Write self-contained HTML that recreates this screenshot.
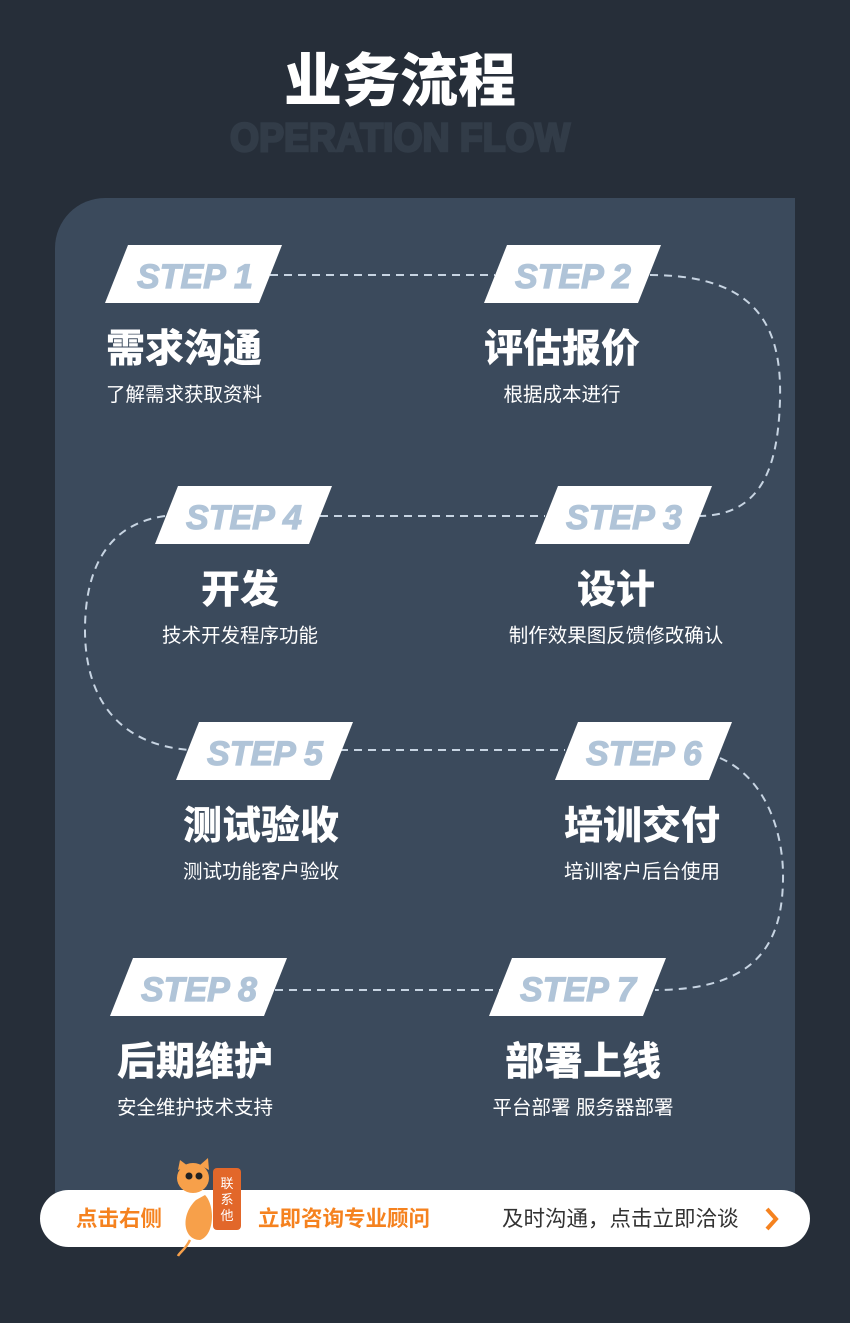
<!DOCTYPE html>
<html><head><meta charset="utf-8"><style>
html,body{margin:0;padding:0;background:#262e39;}
svg{display:block}
</style></head><body>
<svg width="850" height="1323" viewBox="0 0 850 1323" xmlns="http://www.w3.org/2000/svg">
<rect width="850" height="1323" fill="#262e39"/>
<text x="400" y="101" text-anchor="middle" font-size="58" font-weight="900" fill="#fff" font-family="Liberation Sans, Noto Sans CJK SC, sans-serif">业务流程</text>
<text x="400" y="151" text-anchor="middle" font-family="Liberation Sans, sans-serif" font-size="40" font-weight="900" fill="#323c48" stroke="#323c48" stroke-width="2.5" textLength="340" lengthAdjust="spacingAndGlyphs">OPERATION FLOW</text>
<path d="M105 198 H795 V1200 H55 V248 A50 50 0 0 1 105 198 Z" fill="#3b4a5c"/>
<g fill="none" stroke="#c7d4e2" stroke-width="2" stroke-dasharray="8 6">
<line x1="270" y1="275" x2="495" y2="275"/>
<path d="M650 275 C 760 275, 782 330, 780 400 C 778 470, 760 515, 700 516"/>
<line x1="320" y1="516" x2="545" y2="516"/>
<path d="M165 516 C 100 525, 85 580, 85 630 C 85 700, 120 745, 190 750"/>
<line x1="340" y1="750" x2="565" y2="750"/>
<path d="M720 758 C 770 780, 784 840, 783 880 C 782 940, 760 990, 655 990"/>
<line x1="275" y1="990" x2="500" y2="990"/>
</g>
<g fill="#fff">
<polygon points="128,245 282,245 259,303 105,303"/>
<polygon points="507,245 661,245 638,303 484,303"/>
<polygon points="178,486 332,486 309,544 155,544"/>
<polygon points="558,486 712,486 689,544 535,544"/>
<polygon points="199,722 353,722 330,780 176,780"/>
<polygon points="578,722 732,722 709,780 555,780"/>
<polygon points="133,958 287,958 264,1016 110,1016"/>
<polygon points="512,958 666,958 643,1016 489,1016"/>
</g>
<g font-family="Liberation Sans, sans-serif" font-size="34" font-weight="bold" font-style="italic" fill="#b0c4d8" stroke="#b0c4d8" stroke-width="1.2" text-anchor="middle">
<text x="195" y="288">STEP 1</text>
<text x="573" y="288">STEP 2</text>
<text x="244" y="529">STEP 4</text>
<text x="624" y="529">STEP 3</text>
<text x="265" y="765">STEP 5</text>
<text x="644" y="765">STEP 6</text>
<text x="199" y="1001">STEP 8</text>
<text x="578" y="1001">STEP 7</text>
</g>
<g font-family="Liberation Sans, Noto Sans CJK SC, sans-serif" fill="#fff" text-anchor="middle">
<g font-size="39" font-weight="900">
<text x="184" y="362">需求沟通</text>
<text x="562" y="362">评估报价</text>
<text x="240" y="603">开发</text>
<text x="616" y="603">设计</text>
<text x="261" y="839">测试验收</text>
<text x="642" y="839">培训交付</text>
<text x="195" y="1075">后期维护</text>
<text x="583" y="1075">部署上线</text>
</g>
<g font-size="19.5">
<text x="184" y="401">了解需求获取资料</text>
<text x="562" y="401">根据成本进行</text>
<text x="240" y="642">技术开发程序功能</text>
<text x="616" y="642">制作效果图反馈修改确认</text>
<text x="261" y="878">测试功能客户验收</text>
<text x="642" y="878">培训客户后台使用</text>
<text x="195" y="1114">安全维护技术支持</text>
<text x="583" y="1114">平台部署  服务器部署</text>
</g>
</g>
<rect x="40" y="1190" width="770" height="57" rx="28.5" fill="#fff"/>
<g font-family="Liberation Sans, Noto Sans CJK SC, sans-serif" font-size="21.5">
<text x="76" y="1226" fill="#f5821f" font-weight="bold">点击右侧</text>
<text x="258" y="1226" fill="#f5821f" font-weight="bold">立即咨询专业顾问</text>
<text x="502" y="1226" fill="#333">及时沟通，点击立即洽谈</text>
</g>
<path d="M767 1209 L776 1219 L767 1229" fill="none" stroke="#f5821f" stroke-width="4"/>
<g>
<path d="M196 1200 C 180 1215, 183 1240, 200 1240 C 215 1235, 215 1205, 205 1195 Z" fill="#f7a04a"/>
<ellipse cx="193" cy="1178" rx="16" ry="15" fill="#f7a04a"/>
<polygon points="178,1170 180,1160 188,1166" fill="#f7a04a"/>
<polygon points="200,1165 208,1158 209,1170" fill="#f7a04a"/>
<circle cx="189" cy="1176" r="3.5" fill="#222"/>
<circle cx="199" cy="1176" r="3.5" fill="#222"/>
<path d="M190 1240 C 185 1250, 180 1252, 178 1256" stroke="#f7a04a" stroke-width="2.5" fill="none"/>
<rect x="213" y="1168" width="28" height="62" rx="4" fill="#e2672a"/>
<text x="227" y="1188" text-anchor="middle" font-family="Noto Sans CJK SC, sans-serif" font-size="13" fill="#fff">联</text>
<text x="227" y="1204" text-anchor="middle" font-family="Noto Sans CJK SC, sans-serif" font-size="13" fill="#fff">系</text>
<text x="227" y="1220" text-anchor="middle" font-family="Noto Sans CJK SC, sans-serif" font-size="13" fill="#fff">他</text>
</g>
</svg>
</body></html>
